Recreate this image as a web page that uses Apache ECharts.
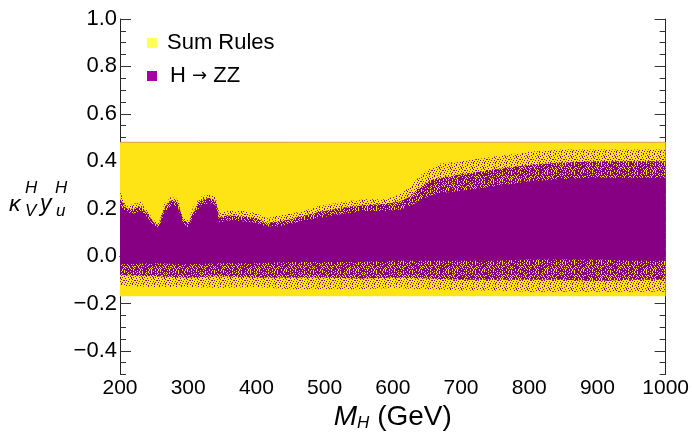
<!DOCTYPE html>
<html>
<head>
<meta charset="utf-8">
<script src="https://cdn.jsdelivr.net/npm/echarts@6/dist/echarts.min.js"></script>
<style>
  html, body { margin: 0; padding: 0; background: #fff; }
  #chart { width: 692px; height: 437px; }
</style>
</head>
<body>
<div id="chart"></div>
<script>
// sum rules allowed band
const sumRuleMass = [200, 1000]
const sumRuleLow = [-0.17, -0.17]
const sumRuleHigh = [0.48, 0.48]

// H -> ZZ scan, upper envelopes (outer sparse dots, dense part, solid core)
const upperMass = [200, 210, 220, 230, 240, 250, 257, 265, 275, 285, 292, 300, 308, 318, 330, 340, 346, 355, 370, 385, 400,
  415, 430, 450, 470, 490, 510, 530, 560, 590, 610, 625, 640, 655, 670, 700, 750, 800, 850, 900, 950, 1000]
const sparseTop = [0.27, 0.21, 0.22, 0.23, 0.19, 0.15, 0.14, 0.22, 0.25, 0.24, 0.17, 0.15, 0.21, 0.25, 0.26, 0.25, 0.18, 0.19, 0.19, 0.19, 0.18,
  0.16, 0.17, 0.18, 0.19, 0.21, 0.22, 0.23, 0.24, 0.24, 0.26, 0.29, 0.34, 0.37, 0.39, 0.40, 0.42, 0.44, 0.45, 0.45, 0.45, 0.45]
const denseTop = [0.24, 0.20, 0.20, 0.21, 0.18, 0.14, 0.13, 0.20, 0.235, 0.225, 0.155, 0.135, 0.19, 0.235, 0.245, 0.235, 0.16, 0.17, 0.17, 0.165, 0.16,
  0.14, 0.145, 0.155, 0.17, 0.185, 0.195, 0.205, 0.215, 0.22, 0.23, 0.25, 0.29, 0.32, 0.33, 0.345, 0.365, 0.385, 0.395, 0.40, 0.40, 0.40]
const coreTop = [0.21, 0.185, 0.18, 0.19, 0.165, 0.125, 0.12, 0.18, 0.215, 0.205, 0.14, 0.12, 0.17, 0.21, 0.225, 0.215, 0.14, 0.15, 0.15, 0.145, 0.14,
  0.125, 0.125, 0.135, 0.15, 0.16, 0.17, 0.18, 0.19, 0.19, 0.195, 0.21, 0.235, 0.255, 0.265, 0.275, 0.295, 0.315, 0.325, 0.33, 0.33, 0.33]

// lower envelopes
const lowerMass = [200, 250, 300, 350, 400, 450, 500, 550, 600, 650, 700, 750, 800, 850, 900, 950, 1000]
const coreBottom = [-0.035, -0.03, -0.035, -0.03, -0.03, -0.025, -0.025, -0.025, -0.02, -0.02, -0.02, -0.02, -0.015, -0.015, -0.015, -0.02, -0.02]
const denseBottom = [-0.08, -0.085, -0.09, -0.085, -0.09, -0.09, -0.09, -0.095, -0.09, -0.095, -0.10, -0.10, -0.10, -0.10, -0.105, -0.10, -0.10]
const sparseBottom = [-0.125, -0.13, -0.13, -0.135, -0.13, -0.14, -0.14, -0.14, -0.135, -0.14, -0.145, -0.145, -0.15, -0.15, -0.15, -0.15, -0.15]

// axis ticks
const yMajorTicks = [-0.4, -0.2, 0.0, 0.2, 0.4, 0.6, 0.8, 1.0]

const YELLOW = '#ffe415'
const PURPLE = '#870084'
const FONT = 'Liberation Sans'

// speckle textures for the scattered-points edges ('#' = a point)
const sparseTile = [
  '#....#.....',
  '...#.....#.',
  '.#.....#..#',
  '....#.....#',
  '#.......#..',
  '..##.#.....',
  '.......#..#',
  '.#..#......',
  '#.....#..#.',
  '#..#.......',
  '.....#..#..'
]
const denseTile = [
  '##.##.#.#',
  '.###.##.#',
  '##.#.##.#',
  '#.###.#.#',
  '##.#.####',
  '.##.##.#.',
  '#.#.###.#',
  '####.#.#.',
  '##.##.#.#'
]

function makePattern (tile, color) {
  const c = document.createElement('canvas')
  c.width = tile[0].length
  c.height = tile.length
  const ctx = c.getContext('2d')
  ctx.fillStyle = color
  tile.forEach((row, y) => {
    for (let x = 0; x < row.length; x++) {
      if (row[x] === '#') ctx.fillRect(x, y, 1, 1)
    }
  })
  return { image: c, repeat: 'repeat' }
}

function bandSeries (name, xsTop, top, xsBot, bot, fill, edge) {
  return {
    name: name,
    type: 'custom',
    silent: true,
    data: [0],
    renderItem: function (params, api) {
      const pts = []
      for (let i = 0; i < xsTop.length; i++) pts.push(api.coord([xsTop[i], top[i]]))
      for (let i = xsBot.length - 1; i >= 0; i--) pts.push(api.coord([xsBot[i], bot[i]]))
      const children = [{ type: 'polygon', shape: { points: pts }, style: { fill: fill } }]
      if (edge) {
        children.push({
          type: 'polyline',
          shape: { points: xsTop.map((x, i) => api.coord([x, top[i]])) },
          style: { stroke: edge, lineWidth: 1, fill: null }
        })
      }
      return { type: 'group', children: children }
    }
  }
}

function fmt (v) {
  if (Math.abs(v * 5 - Math.round(v * 5)) > 1e-6) return ''
  const s = Math.abs(v) < 1e-9 ? '0.0' : v.toFixed(1)
  return s.replace('-', '\u2212')
}

const tickStyle = { color: '#333', width: 1 }
const lineStyle = { color: '#222', width: 1 }

const option = {
  animation: false,
  backgroundColor: '#fff',
  grid: { left: 120, right: 25, top: 19, bottom: 57 },
  legend: {
    orient: 'vertical',
    left: 147,
    top: 32,
    itemWidth: 10,
    itemHeight: 10,
    itemGap: 11,
    padding: 0,
    selectedMode: false,
    formatter: function (name) {
      return name.replace('→', '{a|→}')
    },
    textStyle: {
      fontFamily: FONT,
      fontSize: 22,
      color: '#000',
      padding: [0, 0, 0, 5],
      rich: { a: { fontFamily: 'DejaVu Sans', fontSize: 18, color: '#000' } }
    },
    data: [
      { name: 'Sum Rules', icon: 'rect', itemStyle: { color: '#ffff55' } },
      { name: 'H → ZZ', icon: 'rect', itemStyle: { color: '#a400a4' }, textStyle: { padding: [0, 0, 0, 8] } }
    ]
  },
  xAxis: [
    {
      type: 'value',
      position: 'bottom',
      min: 200,
      max: 1000,
      interval: 100,
      axisLine: { lineStyle: lineStyle },
      axisTick: { show: true, inside: true, length: 11, lineStyle: tickStyle },
      minorTick: { show: true, splitNumber: 5, length: 6, lineStyle: tickStyle },
      splitLine: { show: false },
      axisLabel: { fontFamily: FONT, fontSize: 21, color: '#000', margin: 3, formatter: v => String(v) },
      name: '{i|M}{s|H} (GeV)',
      nameLocation: 'middle',
      nameGap: 26,
      nameTextStyle: {
        fontFamily: FONT,
        fontSize: 28,
        color: '#000',
        rich: {
          i: { fontFamily: FONT, fontSize: 28, fontStyle: 'italic', color: '#000' },
          s: { fontFamily: FONT, fontSize: 17, fontStyle: 'italic', color: '#000', padding: [12, 0, 0, 0] }
        }
      }
    },
    {
      type: 'value',
      position: 'top',
      min: 200,
      max: 1000,
      interval: 200,
      axisLine: { lineStyle: lineStyle },
      axisTick: { show: true, inside: true, length: 11, lineStyle: tickStyle },
      minorTick: { show: true, splitNumber: 4, length: 6, lineStyle: tickStyle },
      splitLine: { show: false },
      axisLabel: { show: false }
    }
  ],
  yAxis: [
    {
      type: 'value',
      position: 'left',
      min: -0.5,
      max: 1.0,
      interval: 0.05,
      axisLine: { show: true, lineStyle: lineStyle },
      axisTick: { show: true, inside: true, length: 6, lineStyle: tickStyle },
      splitLine: { show: false },
      axisLabel: { fontFamily: FONT, fontSize: 22, color: '#000', margin: 3, formatter: fmt }
    },
    {
      type: 'value',
      position: 'left',
      min: -0.5,
      max: 1.0,
      axisLine: { show: false },
      axisTick: { show: true, inside: true, length: 11, lineStyle: tickStyle, customValues: yMajorTicks },
      splitLine: { show: false },
      axisLabel: { show: false }
    },
    {
      type: 'value',
      position: 'right',
      min: -0.5,
      max: 1.0,
      interval: 0.05,
      axisLine: { show: true, lineStyle: lineStyle },
      axisTick: { show: true, inside: true, length: 6, lineStyle: tickStyle },
      splitLine: { show: false },
      axisLabel: { show: false }
    },
    {
      type: 'value',
      position: 'right',
      min: -0.5,
      max: 1.0,
      axisLine: { show: false },
      axisTick: { show: true, inside: true, length: 11, lineStyle: tickStyle, customValues: yMajorTicks },
      splitLine: { show: false },
      axisLabel: { show: false }
    }
  ],
  graphic: [
    { type: 'text', left: 9, top: 193, style: { text: 'κ', font: 'italic 23px "Liberation Sans"', fill: '#000' } },
    { type: 'text', left: 25, top: 203, style: { text: 'V', font: 'italic 17px "Liberation Sans"', fill: '#000' } },
    { type: 'text', left: 25, top: 180, style: { text: 'H', font: 'italic 17px "Liberation Sans"', fill: '#000' } },
    { type: 'text', left: 40, top: 193, style: { text: 'y', font: 'italic 23px "Liberation Sans"', fill: '#000' } },
    { type: 'text', left: 56, top: 203, style: { text: 'u', font: 'italic 17px "Liberation Sans"', fill: '#000' } },
    { type: 'text', left: 55, top: 180, style: { text: 'H', font: 'italic 17px "Liberation Sans"', fill: '#000' } }
  ],
  series: [
    bandSeries('Sum Rules', sumRuleMass, sumRuleHigh, sumRuleMass, sumRuleLow, YELLOW, '#e39848'),
    bandSeries('H → ZZ sparse', upperMass, sparseTop, lowerMass, sparseBottom, makePattern(sparseTile, PURPLE)),
    bandSeries('H → ZZ dense', upperMass, denseTop, lowerMass, denseBottom, makePattern(denseTile, PURPLE)),
    bandSeries('H → ZZ', upperMass, coreTop, lowerMass, coreBottom, PURPLE)
  ]
}

const chart = echarts.init(document.getElementById('chart'))
chart.setOption(option)
</script>
</body>
</html>
